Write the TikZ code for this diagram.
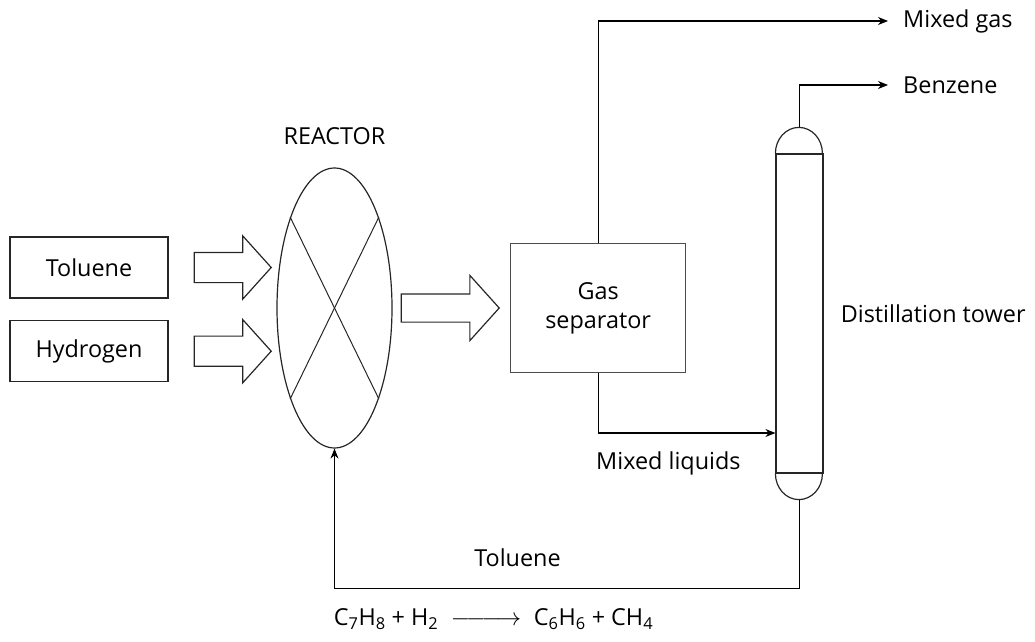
\documentclass[tikz,border=0pt]{standalone}
\usepackage{fontspec}
\setmainfont{Open Sans}
\usetikzlibrary{arrows.meta, positioning, shapes.geometric, shapes.arrows}

\begin{document}
\begin{tikzpicture}[
                x=1pt, y=1pt,
                font=\fontsize{23.4}{29}\selectfont,
                node distance=20pt,
                block/.style={rectangle, draw=black!85, line width=1.2pt, minimum width=158pt, minimum height=61pt, inner sep=0pt},
                sep_block/.style={rectangle, draw=black!70, line width=1.2pt, minimum width=175pt, minimum height=129pt, align=center, inner sep=0pt},
                tower_block/.style={rectangle, draw=black!85, line width=1.2pt, minimum width=47pt, minimum height=319pt, inner sep=0pt},
                feed_arrow/.style={single arrow, draw=black!85, line width=1.2pt, inner xsep=0pt, inner ysep=14.5pt, minimum width=62pt, single arrow head extend=16.5pt, single arrow tip angle=96},
                line/.style={draw, line width=1.2pt, -{Stealth[length=10pt, width=8pt]}},
                pipe/.style={draw=black!85, line width=1.2pt},
                txt/.style={inner sep=0pt}
            ]
                \useasboundingbox (0,0) rectangle (1035,641);

                % Place nodes
                \node [block] (P_tol) at (89,373.5) {Toluene};
                \node [block, below=21.5pt of P_tol] (P_hyd) {Hydrogen};

                \node [draw=black!85, ellipse, line width=1.2pt, minimum width=115pt, minimum height=280pt, inner sep=0pt] (P_reactor) at (334.5,333) {};
                \node [txt, above=22pt of P_reactor] (L_reactor) {REACTOR};

                % Hollow feed arrows
                \node [feed_arrow, minimum height=77pt, right=25pt of P_tol] (A_tol) {};
                \node [feed_arrow, minimum height=77pt, right=25pt of P_hyd] (A_hyd) {};
                \node [feed_arrow, minimum height=98pt, inner ysep=13.5pt, minimum width=64pt, single arrow head extend=18.5pt, right=8pt of P_reactor] (A_out) {};

                \node [sep_block, right=10pt of A_out] (P_sep) {Gas\\separator};

                % Distillation tower with round caps
                \node [tower_block] (P_tower) at (799.5,327.5) {};
                \draw [pipe] (P_tower.north west) arc[start angle=180, end angle=0, x radius=23.5pt, y radius=26pt];
                \draw [pipe] (P_tower.south west) arc[start angle=180, end angle=360, x radius=23.5pt, y radius=26pt];
                \coordinate (T_top) at ([yshift=26pt]P_tower.north);
                \coordinate (T_bot) at ([yshift=-26pt]P_tower.south);
                \node [txt, right=17pt of P_tower] (L_tower) {Distillation tower};

                % Reactor cross
                \draw [pipe, line width=1pt] (P_reactor.116) -- (P_reactor.296);
                \draw [pipe, line width=1pt] (P_reactor.64) -- (P_reactor.244);

                % Draw edges
                \coordinate (C_gas) at (888,620);
                \coordinate (C_benz) at (888,556);
                \path [line] (P_sep.north) |- (C_gas);
                \node [txt, right=15pt of C_gas] (L_gas) {Mixed gas};
                \path [line] (T_top) |- (C_benz);
                \node [txt, right=15pt of C_benz] (L_benz) {Benzene};

                \path [line] (P_sep.south) |- ([yshift=-119.5pt]P_tower.west);
                \node [txt, anchor=west] (L_liq) at (596,178) {Mixed liquids};

                \path [line] (T_bot) |- ([yshift=-140pt]P_reactor.south) -- (P_reactor.south);
                \node [txt] (L_ret) at (517.5,83) {Toluene};

                \node [txt] (L_eq) at (493.5,22) {C\textsubscript{7}H\textsubscript{8} + H\textsubscript{2} \;$\relbar\joinrel\relbar\joinrel\longrightarrow$\; C\textsubscript{6}H\textsubscript{6} + CH\textsubscript{4}};

            \end{tikzpicture}
\end{document}
